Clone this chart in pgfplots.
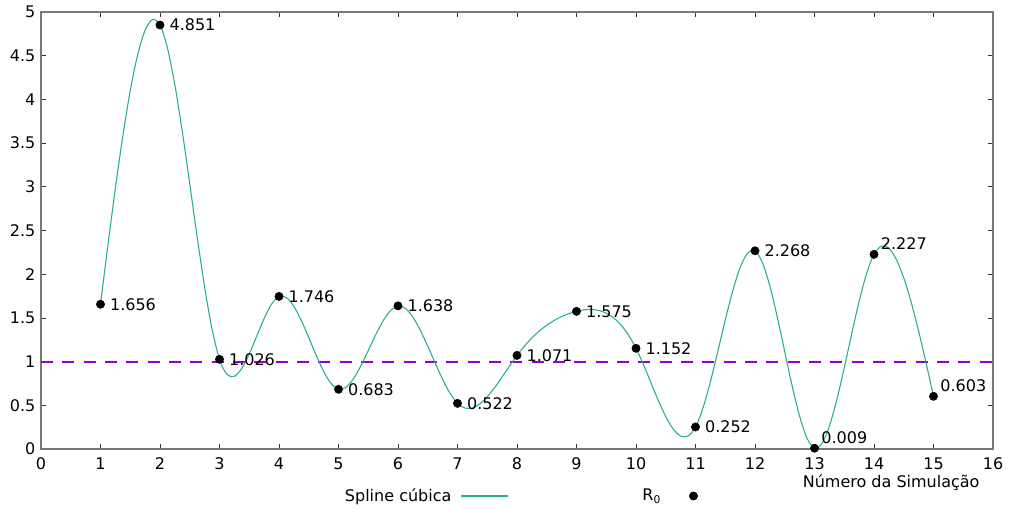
\documentclass[border=0pt]{standalone}
\usepackage{fontspec}
\setmainfont{DejaVu Sans}
\usepackage{pgfplots}
\pgfplotsset{compat=1.18}
\definecolor{splinecol}{RGB}{40,175,135}
\definecolor{refcol}{RGB}{148,0,211}
\definecolor{framecol}{RGB}{120,120,120}
\begin{document}
\fontsize{12}{14}\selectfont
\begin{tikzpicture}
\useasboundingbox (-30.75pt,-44.25pt) rectangle (726pt,336.75pt);
\begin{axis}[
  at={(0,0)}, anchor=south west,
  scale only axis, width=714pt, height=327.75pt,
  xmin=0, xmax=16, ymin=0, ymax=5,
  xtick={0,1,...,16}, ytick={0,0.5,1,1.5,2,2.5,3,3.5,4,4.5,5},
  tick align=inside, xtick pos=both, ytick pos=both,
  xticklabel pos=lower, yticklabel pos=left,
  major tick length=3.75pt,
  axis line style={framecol, line width=0.9pt},
  tick style={black!80, line width=0.6pt},
  /pgf/number format/assume math mode=true,
  ticklabel style={font=\fontsize{12}{14}\selectfont, text=black},
  xticklabel style={yshift=-2.5pt},
  xlabel={Número da Simulação},
  xlabel style={at={(rel axis cs:0.893,0)}, anchor=center, yshift=-25.5pt, font=\fontsize{12}{14}\selectfont},
  legend columns=2,
  legend plot pos=right,
  legend style={draw=none, fill=none, inner sep=0pt, outer sep=0pt,
    nodes={inner sep=0pt, font=\fontsize{12}{14}\selectfont},
    at={(rel axis cs:0.3193,0)}, anchor=west, yshift=-35.25pt,
    /tikz/column 1/.style={column sep=6.75pt},
    /tikz/column 2/.style={column sep=100.5pt},
    /tikz/column 3/.style={column sep=6.75pt}},
]
\addplot[refcol, line width=1.4pt, dash pattern=on 9pt off 7pt, forget plot] coordinates {(0,1) (16,1)};

\addplot[splinecol, line width=0.8pt, smooth, tension=0.5,
  legend image code/.code={\draw[splinecol, line width=0.8pt] (0pt,0pt) -- (35.25pt,0pt);}]
  table[x=x, y=y] {
x y
1 1.656
1.125 2.3329
1.25 2.9834
1.375 3.5810
1.5 4.0993
1.625 4.5119
1.75 4.7923
1.875 4.9142
2 4.851
2.125 4.5891
2.25 4.1656
2.375 3.6305
2.5 3.0336
2.625 2.4248
2.75 1.8540
2.875 1.3711
3 1.026
3.125 0.8540
3.25 0.8321
3.375 0.9226
3.5 1.0880
3.625 1.2907
3.75 1.4930
3.875 1.6573
4 1.746
4.125 1.7322
4.25 1.6316
4.375 1.4706
4.5 1.2756
4.625 1.0729
4.75 0.8890
4.875 0.7502
5 0.683
5.125 0.7054
5.25 0.8023
5.375 0.9503
5.5 1.1261
5.625 1.3061
5.75 1.4671
5.875 1.5855
6 1.638
6.125 1.6083
6.25 1.5086
6.375 1.3583
6.5 1.1765
6.625 0.9827
6.75 0.7961
6.875 0.6361
7 0.522
7.125 0.4682
7.25 0.4695
7.375 0.5159
7.5 0.5972
7.625 0.7035
7.75 0.8246
7.875 0.9504
8 1.071
8.125 1.1780
8.25 1.2706
8.375 1.3497
8.5 1.4162
8.625 1.4711
8.75 1.5152
8.875 1.5495
9 1.575
9.125 1.5917
9.25 1.5965
9.375 1.5854
9.5 1.5545
9.625 1.4996
9.75 1.4169
9.875 1.3024
10 1.152
10.125 0.9659
10.25 0.7602
10.375 0.5553
10.5 0.3715
10.625 0.2289
10.75 0.1480
10.875 0.1489
11 0.252
11.125 0.4679
11.25 0.7689
11.375 1.1175
11.5 1.4765
11.625 1.8084
11.75 2.0759
11.875 2.2415
12 2.268
12.125 2.1316
12.25 1.8637
12.375 1.5090
12.5 1.1127
12.625 0.7195
12.75 0.3746
12.875 0.1228
13 0.009
13.125 0.0641
13.25 0.2624
13.375 0.5641
13.5 0.9291
13.625 1.3178
13.75 1.6903
13.875 2.0066
14 2.227
14.125 2.3211
14.25 2.2963
14.375 2.1697
14.5 1.9582
14.625 1.6788
14.75 1.3485
14.875 0.9842
15 0.603
};
\addlegendentry{Spline cúbica}

\addplot[only marks, mark=*, mark size=3.1pt, black,
  nodes near coords, point meta=explicit symbolic,
  nodes near coords style={anchor=west, inner sep=0pt, xshift=7pt, text=black, font=\fontsize{12}{14}\selectfont},
  legend image code/.code={\path[draw=none] (0pt,0pt) -- (35.25pt,0pt); \fill[black] (17.6pt,0pt) circle[radius=3.1pt];}]
  table[x=x, y=y, meta=lab] {
x y lab
1 1.656 1.656
2 4.851 4.851
3 1.026 1.026
4 1.746 1.746
5 0.683 0.683
6 1.638 1.638
7 0.522 0.522
8 1.071 1.071
9 1.575 1.575
10 1.152 1.152
11 0.252 0.252
12 2.268 2.268
};
\addlegendentry{R\textsubscript{0}}

\addplot[only marks, mark=*, mark size=3.1pt, black, forget plot,
  nodes near coords, point meta=explicit symbolic,
  nodes near coords style={anchor=west, inner sep=0pt, xshift=5pt, yshift=8pt, text=black, font=\fontsize{12}{14}\selectfont}]
  table[x=x, y=y, meta=lab] {
x y lab
13 0.009 0.009
14 2.227 2.227
15 0.603 0.603
};
\end{axis}
\end{tikzpicture}
\end{document}
